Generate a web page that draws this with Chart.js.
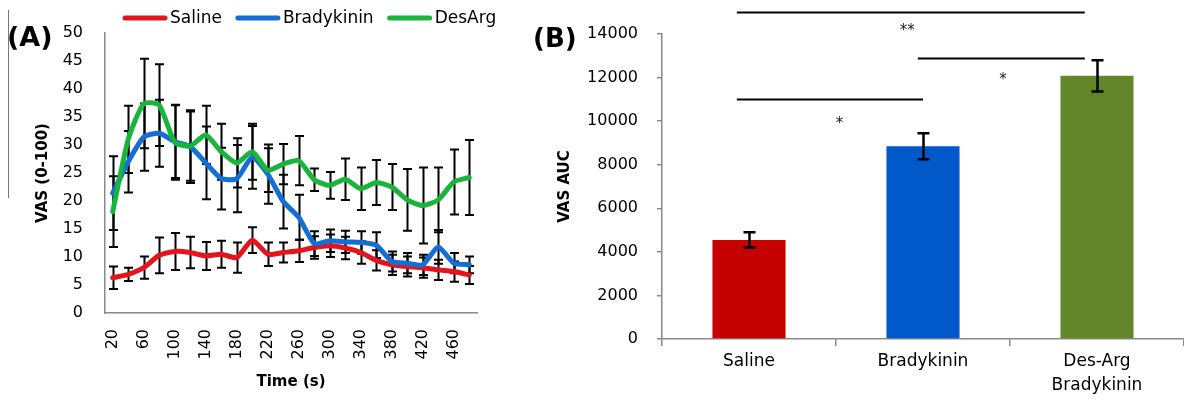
<!DOCTYPE html>
<html>
<head>
<meta charset="utf-8">
<title>VAS time course and AUC</title>
<script src="https://cdn.jsdelivr.net/npm/chart.js@4.4.1/dist/chart.umd.min.js"></script>
<style>
  html, body { margin: 0; padding: 0; background: #fff; }
  #wrap { position: relative; width: 1184px; height: 405px; overflow: hidden; background: #fff; }
  #panelA { position: absolute; left: 0; top: 0; width: 510px; height: 405px; }
  #panelB { position: absolute; left: 510px; top: 0; width: 674px; height: 405px; }
  .tag { position: absolute; font-family: 'DejaVu Sans'; font-weight: bold; font-size: 27px; line-height: 27px; color: #000; }
  #rule { position: absolute; left: 8px; top: 10px; width: 1px; height: 188px; background: #777; }
</style>
</head>
<body>
<div id="wrap">
  <div id="rule"></div>
  <div id="panelA"><canvas id="chartA" width="510" height="405"></canvas></div>
  <div id="panelB"><canvas id="chartB" width="674" height="405"></canvas></div>
  <div class="tag" style="left:7px;top:23px">(A)</div>
  <div class="tag" style="left:533px;top:25px;font-size:26px">(B)</div>
</div>
<script>
// ---- Panel A: VAS over time (mean ± SE) ----
const timeLabels = ['20','40','60','80','100','120','140','160','180','200','220','240',
                    '260','280','300','320','340','360','380','400','420','440','460','480'];
const salineVAS = [6.3, 6.9, 8.1, 10.3, 11.0, 10.8, 10.2, 10.5, 9.9, 13.0, 10.5, 10.8,
                   11.1, 11.7, 12.0, 11.6, 10.8, 9.4, 8.6, 8.3, 8.1, 7.7, 7.4, 6.8];
const salineSE = [2.0, 1.2, 2.0, 3.2, 3.3, 2.8, 2.5, 2.4, 2.7, 2.3, 2.1, 1.8,
                  2.0, 2.0, 2.0, 2.0, 2.0, 1.8, 1.8, 1.8, 1.8, 1.8, 1.8, 1.6];
const bradykininVAS = [21.4, 27.0, 31.4, 32.1, 30.6, 29.7, 26.8, 24.0, 24.0, 27.8, 24.8, 19.9,
                       17.1, 12.4, 12.9, 12.7, 12.6, 12.1, 9.2, 8.9, 8.6, 11.8, 8.9, 8.6];
const bradykininSE = [6.6, 5.5, 6.0, 6.0, 6.5, 6.5, 6.5, 5.5, 6.0, 5.6, 5.3, 4.8,
                      4.0, 2.2, 2.0, 2.0, 2.0, 2.3, 1.8, 1.8, 1.8, 3.0, 1.8, 1.5];
const desArgVAS = [18.1, 31.0, 37.4, 37.1, 30.5, 29.8, 31.8, 28.8, 26.8, 28.8, 25.5, 26.6,
                   27.2, 23.8, 22.8, 23.9, 22.2, 23.3, 22.5, 20.2, 19.2, 20.2, 23.4, 24.2];
const desArgSE = [6.3, 6.0, 8.0, 7.3, 6.7, 6.2, 5.2, 5.0, 4.4, 5.0, 3.9, 3.6,
                  4.4, 2.0, 2.4, 3.7, 3.8, 4.0, 4.1, 5.5, 6.8, 5.8, 5.8, 6.7];
const vasTicks = { min: 0, max: 50, step: 5 };

// ---- Panel B: area under the VAS curve ----
const groups = ['Saline', 'Bradykinin', ['Des-Arg', 'Bradykinin']];
const vasAUC = [4550, 8850, 12080];
const vasAUCSE = [350, 600, 720];
const aucTicks = { min: 0, max: 14000, step: 2000 };
// significance brackets: line ends and mark position in category units, heights in AUC units
const brackets = [
  { from: -0.07, to: 1.0,  level: 11000, mark: '*',  markAt: 0.52, markLevel: 9850 },
  { from: 0.97,  to: 1.93, level: 12900, mark: '*',  markAt: 1.46, markLevel: 11900 },
  { from: -0.07, to: 1.93, level: 15000, mark: '**', markAt: 0.91, markLevel: 14150 }
];

Chart.defaults.font.family = "'DejaVu Sans', sans-serif";
Chart.defaults.color = '#000';
const axisGrey = '#8a8a8a';

// mean ± SE whiskers, drawn from each dataset's `errors` array through the y scale
const errorBars = {
  id: 'errorBars',
  draw(chart, opts) {
    const { ctx } = chart;
    const y = chart.scales.y;
    chart.data.datasets.forEach((ds, di) => {
      const meta = chart.getDatasetMeta(di);
      if (!ds.errors || meta.hidden) return;
      ctx.save();
      ctx.strokeStyle = opts.color;
      ctx.lineWidth = opts.width;
      meta.data.forEach((el, i) => {
        const v = ds.data[i], e = ds.errors[i];
        const x = Math.round(el.x) + 0.5;
        const yT = y.getPixelForValue(v + e), yB = y.getPixelForValue(v - e);
        ctx.beginPath();
        ctx.moveTo(x, yT); ctx.lineTo(x, yB);
        ctx.moveTo(x - opts.cap, yT); ctx.lineTo(x + opts.cap, yT);
        ctx.moveTo(x - opts.cap, yB); ctx.lineTo(x + opts.cap, yB);
        ctx.stroke();
      });
      ctx.restore();
    });
  },
  beforeDatasetsDraw(chart, args, opts) { if (opts.under) this.draw(chart, opts); },
  afterDatasetsDraw(chart, args, opts) { if (!opts.under) this.draw(chart, opts); }
};

// line-sample legend across the top of panel A
const lineLegend = {
  id: 'lineLegend',
  afterDraw(chart, args, opts) {
    const { ctx } = chart;
    ctx.save();
    ctx.font = opts.font;
    ctx.textBaseline = 'middle';
    let x = opts.x;
    chart.data.datasets.forEach(ds => {
      ctx.strokeStyle = ds.borderColor;
      ctx.lineWidth = 5;
      ctx.lineCap = 'round';
      ctx.beginPath();
      ctx.moveTo(x + 2, opts.y); ctx.lineTo(x + opts.sample - 2, opts.y);
      ctx.stroke();
      ctx.fillStyle = '#000';
      ctx.fillText(ds.label, x + opts.sample + 3, opts.y + 1);
      x += opts.sample + 3 + ctx.measureText(ds.label).width + opts.gap;
    });
    ctx.restore();
  }
};

// significance brackets above the bars of panel B
const sigBrackets = {
  id: 'sigBrackets',
  afterDraw(chart, args, opts) {
    const { ctx } = chart;
    const xs = chart.scales.x, ys = chart.scales.y;
    ctx.save();
    ctx.strokeStyle = '#000';
    ctx.lineWidth = 2;
    ctx.fillStyle = '#222';
    ctx.font = opts.font;
    ctx.textAlign = 'center';
    ctx.textBaseline = 'middle';
    opts.items.forEach(b => {
      const x1 = xs.getPixelForValue(b.from), x2 = xs.getPixelForValue(b.to);
      const yy = Math.round(ys.getPixelForValue(b.level)) + 0.5;
      ctx.beginPath();
      ctx.moveTo(x1, yy); ctx.lineTo(x2, yy);
      ctx.stroke();
      ctx.fillText(b.mark, xs.getPixelForValue(b.markAt), ys.getPixelForValue(b.markLevel));
    });
    ctx.restore();
  }
};

function lineSet(label, data, errors, color, order) {
  return {
    label, data, errors, order,
    borderColor: color, backgroundColor: color,
    borderWidth: 5, pointRadius: 0, tension: 0.2,
    borderJoinStyle: 'round', borderCapStyle: 'round', fill: false
  };
}

new Chart(document.getElementById('chartA'), {
  type: 'line',
  data: {
    labels: timeLabels,
    datasets: [
      lineSet('Saline', salineVAS, salineSE, '#E5141C', 3),
      lineSet('Bradykinin', bradykininVAS, bradykininSE, '#136ED6', 2),
      lineSet('DesArg', desArgVAS, desArgSE, '#19B43C', 1)
    ]
  },
  options: {
    responsive: false,
    animation: false,
    layout: { padding: { top: 33, right: 33, bottom: 0, left: 0 } },
    plugins: {
      legend: { display: false },
      tooltip: { enabled: false },
      errorBars: { color: '#000', width: 2, cap: 4.5, under: true },
      lineLegend: { x: 123, y: 18, sample: 44, gap: 14, font: "17px 'DejaVu Sans'" }
    },
    scales: {
      x: {
        type: 'category',
        offset: true,
        grid: { display: false, drawTicks: false },
        border: { display: true, color: axisGrey, width: 1.5 },
        ticks: {
          autoSkip: false, minRotation: 90, maxRotation: 90, padding: 16,
          font: { size: 16 }, color: '#000',
          callback: function (v, i) { return i % 2 === 0 ? this.getLabelForValue(v) : ''; }
        },
        title: { display: true, text: 'Time (s)', font: { size: 15, weight: 'bold' }, padding: { top: 0, bottom: 14 } },
        afterFit: s => { s.height = 92; }
      },
      y: {
        min: vasTicks.min, max: vasTicks.max,
        grid: { display: false, drawTicks: false },
        border: { display: true, color: axisGrey, width: 1.5 },
        ticks: { stepSize: vasTicks.step, padding: 22, font: { size: 16 }, color: '#000' },
        title: { display: true, text: 'VAS (0-100)', font: { size: 15, weight: 'bold' }, padding: { top: 34, bottom: 0 } },
        afterFit: s => { s.width = 105; }
      }
    }
  },
  plugins: [errorBars, lineLegend]
});

new Chart(document.getElementById('chartB'), {
  type: 'bar',
  data: {
    labels: groups,
    datasets: [{
      label: 'VAS AUC',
      data: vasAUC,
      errors: vasAUCSE,
      backgroundColor: ['#C40000', '#0058C9', '#64862A'],
      borderWidth: 0,
      categoryPercentage: 1,
      barPercentage: 0.42
    }]
  },
  options: {
    responsive: false,
    animation: false,
    layout: { padding: { top: 34, right: 0, bottom: 0, left: 0 } },
    plugins: {
      legend: { display: false },
      tooltip: { enabled: false },
      errorBars: { color: '#000', width: 2.5, cap: 6, under: false },
      sigBrackets: { items: brackets, font: "15px 'DejaVu Sans'" }
    },
    scales: {
      x: {
        grid: { display: true, drawOnChartArea: false, drawTicks: true, tickLength: 7, color: axisGrey, lineWidth: 1.5 },
        border: { display: true, color: axisGrey, width: 1.5 },
        ticks: { padding: 3, font: { size: 17, lineHeight: 1.45 }, color: '#000' },
        afterFit: s => { s.height = 66; }
      },
      y: {
        min: aucTicks.min, max: aucTicks.max,
        grid: { display: true, drawOnChartArea: false, drawTicks: true, tickLength: 5, color: axisGrey, lineWidth: 1.5 },
        border: { display: true, color: axisGrey, width: 1.5 },
        ticks: { stepSize: aucTicks.step, padding: 19, font: { size: 16 }, color: '#000', callback: v => String(v) },
        title: { display: true, text: 'VAS AUC', font: { size: 15, weight: 'bold' }, padding: { top: 46, bottom: 0 } },
        afterFit: s => { s.width = 152; }
      }
    }
  },
  plugins: [errorBars, sigBrackets]
});
</script>
</body>
</html>
